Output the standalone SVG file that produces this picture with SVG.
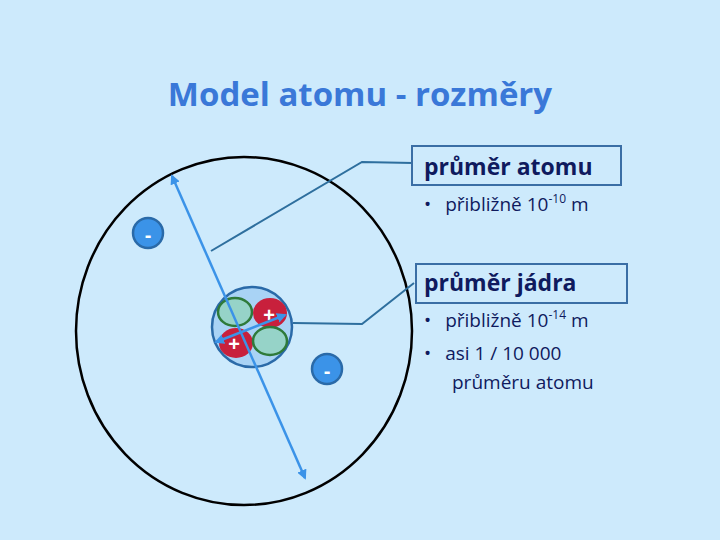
<svg xmlns="http://www.w3.org/2000/svg" width="720" height="540" viewBox="0 0 720 540">
<defs>
<style>
.t{font-family:"Open Sans","Liberation Sans",sans-serif;fill:#0f1a5e}
.lead{fill:none;stroke:#2e6f9e;stroke-width:2}
.box{fill:none;stroke:#3a6ea5;stroke-width:2}
.e{fill:#3b93e8;stroke:#2a6aa8;stroke-width:2.5}
.et{font-family:"Liberation Sans",sans-serif;font-weight:bold;fill:#fff;font-size:20px;text-anchor:middle}
.arr{stroke:#3b93e8;stroke-width:2.5;marker-start:url(#h);marker-end:url(#h)}
</style>
<marker id="h" viewBox="0 0 10 10" refX="8" refY="5" markerWidth="4" markerHeight="4" orient="auto-start-reverse"><path d="M0,0L10,5L0,10z" fill="#3b93e8"/></marker>
</defs>
<rect width="720" height="540" fill="#cdeafc"/>
<text x="360" y="106" text-anchor="middle" font-family="Open Sans,Liberation Sans,sans-serif" font-size="33" font-weight="bold" fill="#3a78d8">Model atomu - rozměry</text>
<g id="atom"><ellipse cx="244" cy="331" rx="168" ry="174" fill="none" stroke="#000" stroke-width="2.5"/></g>
<g id="nucleus">
<circle cx="252" cy="327" r="40" fill="#a9d3f5" stroke="#2a6aa8" stroke-width="2.5"/>
<ellipse cx="235" cy="312" rx="17" ry="14" fill="#96d3c8" stroke="#2e7a3a" stroke-width="2.5"/>
<ellipse cx="270" cy="313" rx="17" ry="15" fill="#c8203c"/>
<ellipse cx="236" cy="343" rx="17" ry="15" fill="#c8203c"/>
<ellipse cx="270" cy="341" rx="17" ry="14" fill="#96d3c8" stroke="#2e7a3a" stroke-width="2.5"/>
<text x="269" y="322" class="et">+</text>
<text x="234" y="351" class="et">+</text>
</g>
<g id="e1"><circle cx="148" cy="233" r="15" class="e"/><text x="148" y="242" class="et">-</text></g>
<g id="e2"><circle cx="327" cy="369" r="15" class="e"/><text x="327" y="378" class="et">-</text></g>
<g id="connectors">
<line x1="305" y1="478" x2="172" y2="176" class="arr"/>
<line x1="216" y1="342" x2="285" y2="315" class="arr"/>
<polyline points="211,251 362,162 413,163" class="lead"/>
<polyline points="293,323 362,324 414,283" class="lead"/>
</g>
<g id="label-atom">
<rect x="412" y="146" width="209" height="39" class="box"/>
<text x="424" y="175" class="t" font-size="23" font-weight="bold">průměr atomu</text>
<text x="424" y="211" class="t" font-size="19">•<tspan dx="14">přibližně 10</tspan><tspan dy="-8" font-size="12">-10</tspan><tspan dy="8"> m</tspan></text>
</g>
<g id="label-nucleus">
<rect x="416" y="264" width="211" height="39" class="box"/>
<text x="424" y="291" class="t" font-size="23" font-weight="bold">průměr jádra</text>
<text x="424" y="327" class="t" font-size="19">•<tspan dx="14">přibližně 10</tspan><tspan dy="-8" font-size="12">-14</tspan><tspan dy="8"> m</tspan></text>
<text x="424" y="360" class="t" font-size="19">•<tspan dx="14">asi 1 / 10 000</tspan></text>
<text x="452" y="389" class="t" font-size="19">průměru atomu</text>
</g>
</svg>
